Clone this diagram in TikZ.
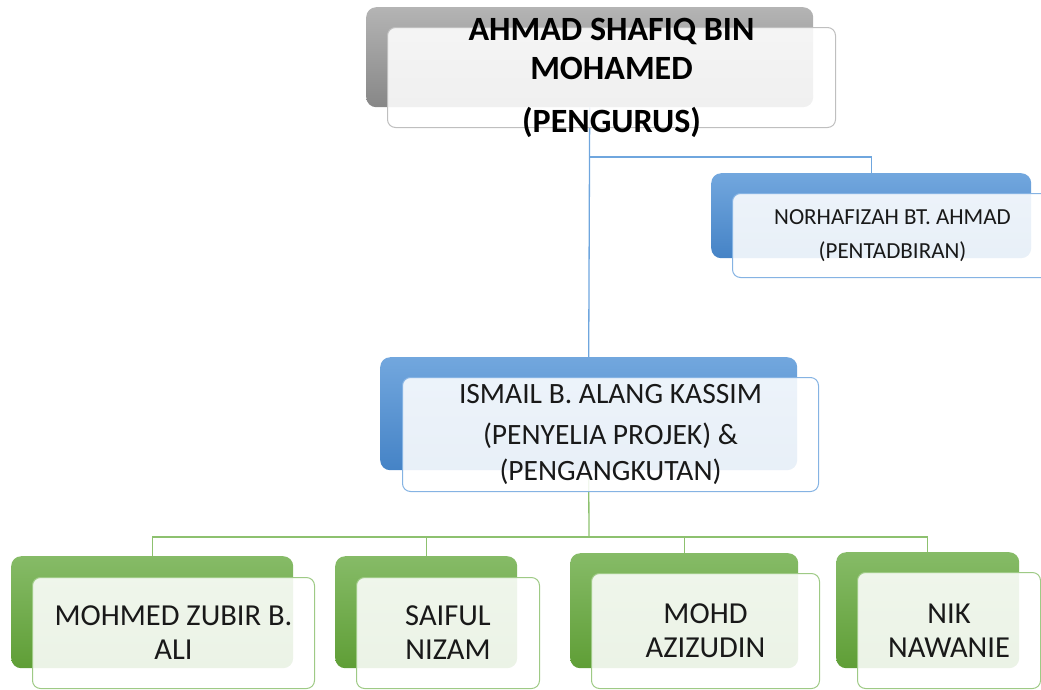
\documentclass[tikz,border=0pt]{standalone}
\usepackage{fontspec}
\setmainfont{Carlito}
\definecolor{grayhi}{HTML}{B4B4B4}
\definecolor{graylo}{HTML}{878787}
\definecolor{bluehi}{HTML}{72A7DE}
\definecolor{bluelo}{HTML}{4583C6}
\definecolor{bluerule}{HTML}{6FA6DE}
\definecolor{greenhi}{HTML}{86BB67}
\definecolor{greenlo}{HTML}{5F9E36}
\definecolor{greenrule}{HTML}{8DC16F}

\begin{document}
\begin{tikzpicture}[x=1pt, y=-1pt,
  backbox/.style={anchor=north west, rounded corners=10pt, inner sep=0pt},
  frontbox/.style={anchor=north west, rounded corners=8pt, inner sep=0pt,
    fill=white, fill opacity=0.88, line width=1pt},
  graytop/.style={backbox, top color=grayhi, bottom color=graylo},
  bluetop/.style={backbox, top color=bluehi, bottom color=bluelo},
  greentop/.style={backbox, top color=greenhi, bottom color=greenlo},
  grayfront/.style={frontbox, draw=black!25},
  bluefront/.style={frontbox, draw=bluerule!85},
  greenfront/.style={frontbox, draw=greenrule!85},
  bluelink/.style={draw=bluerule, line width=1.3pt},
  greenlink/.style={draw=greenrule, line width=1.3pt},
  nametext/.style={align=center, text=black!90}]
  \useasboundingbox (0,0) rectangle (1041,689);

  % back boxes
  \node[graytop, minimum width=447pt, minimum height=100pt] (pengurusback) at (366,7) {};
  \node[bluetop, minimum width=320pt, minimum height=85pt] (norhafizahback) at (711,173) {};
  \node[bluetop, minimum width=417pt, minimum height=113pt] (ismailback) at (380,357) {};
  \node[greentop, minimum width=282pt, minimum height=112pt] (zubirback) at (11,556) {};
  \node[greentop, minimum width=182pt, minimum height=112pt] (saifulback) at (335,556) {};
  \node[greentop, minimum width=228pt, minimum height=115pt] (azizudinback) at (570,553) {};
  \node[greentop, minimum width=183pt, minimum height=116pt] (nikback) at (836,552) {};

  % connectors
  \coordinate (topjoint) at (590,157);
  \coordinate (botjoint) at (589,537);
  \draw[bluelink] (pengurusback.south) -- (ismailback.north);
  \draw[bluelink] (topjoint) -| (norhafizahback.north);
  \draw[greenlink] (ismailback.south) -- (botjoint);
  \draw[greenlink] (botjoint) -| (zubirback.north);
  \draw[greenlink] (botjoint) -| (saifulback.north);
  \draw[greenlink] (botjoint) -| (azizudinback.north);
  \draw[greenlink] (botjoint) -| (nikback.north);

  % front boxes
  \node[grayfront, minimum width=448pt, minimum height=100pt] (pengurus) at (387,27) {};
  \node[bluefront, minimum width=320pt, minimum height=84pt] (norhafizah) at (732,193) {};
  \node[bluefront, minimum width=416pt, minimum height=114pt] (ismail) at (402,377) {};
  \node[greenfront, minimum width=282pt, minimum height=111pt] (zubir) at (32,577) {};
  \node[greenfront, minimum width=183pt, minimum height=111pt] (saiful) at (356,577) {};
  \node[greenfront, minimum width=228pt, minimum height=115pt] (azizudin) at (591,573) {};
  \node[greenfront, minimum width=183pt, minimum height=116pt] (nik) at (857,572) {};

  % names
  \node[nametext, text=black, font=\fontsize{34}{39}\selectfont\bfseries] (pengurustxt) at (pengurus.center)
    {AHMAD SHAFIQ BIN\\MOHAMED\\[14pt](PENGURUS)};
  \node[nametext, font=\fontsize{23}{34}\selectfont] (norhafizahtxt) at (norhafizah.center)
    {NORHAFIZAH BT. AHMAD\\(PENTADBIRAN)};
  \node[nametext, font=\fontsize{29.5}{36}\selectfont] (ismailtxt) at (ismail.center)
    {ISMAIL B. ALANG KASSIM\\[5pt](PENYELIA PROJEK) \&\\(PENGANGKUTAN)};
  \node[nametext, font=\fontsize{30.5}{34}\selectfont] (zubirtxt) at (zubir.center) {MOHMED ZUBIR B.\\ALI};
  \node[nametext, font=\fontsize{30.5}{34}\selectfont] (saifultxt) at (saiful.center) {SAIFUL\\NIZAM};
  \node[nametext, font=\fontsize{30.5}{34}\selectfont] (azizudintxt) at (azizudin.center) {MOHD\\AZIZUDIN};
  \node[nametext, font=\fontsize{30.5}{34}\selectfont] (niktxt) at (nik.center) {NIK\\NAWANIE};
\end{tikzpicture}
\end{document}
